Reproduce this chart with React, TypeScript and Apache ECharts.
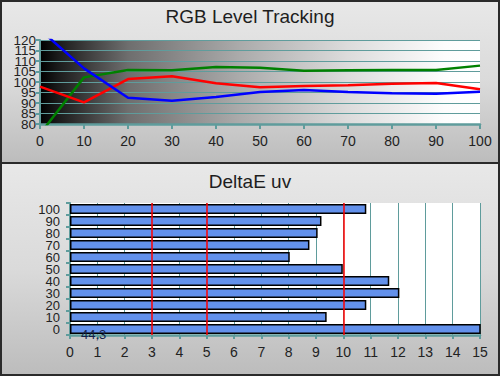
import React, { useEffect, useRef } from "react";
import * as echarts from "echarts";

const levels = [0, 10, 20, 30, 40, 50, 60, 70, 80, 90, 100];
const redLevels = [97.8, 90.3, 101.4, 102.7, 99.4, 97.5, 98.1, 98.4, 99.2, 99.5, 96.5];
const greenLevels = [75.3, 102.2, 105.7, 105.6, 107.1, 106.8, 105.4, 105.6, 105.7, 105.7, 107.8];
const blueLevels = [124.9, 106.5, 92.5, 91.1, 92.9, 95.2, 96.2, 95.2, 94.6, 94.4, 95.4];

const deltaCats = ["0", "10", "20", "30", "40", "50", "60", "70", "80", "90", "100"];
const deltaValues = [44.3, 9.39, 10.84, 12.05, 11.68, 9.98, 8.04, 8.76, 9.06, 9.2, 10.84];
const deltaThresholds = [3, 5, 10];

const TEAL = "#5f9c9c";
const FONT = "Liberation Sans";

export default function App() {
  const ref = useRef<HTMLDivElement>(null);
  useEffect(() => {
    document.body.style.margin = "0";
    const chart = echarts.init(ref.current!, null, { renderer: "svg" });
    const panelFill = () =>
      new echarts.graphic.LinearGradient(0, 0, 0, 1, [
        { offset: 0, color: "#e8e8e8" },
        { offset: 0.5, color: "#dadada" },
        { offset: 1, color: "#bcbcbc" },
      ]);
    const pts = (vals: number[]) => levels.map((l, i) => [l, vals[i]]);
    const yLabel = (keepRem: number) => ({
      fontFamily: FONT,
      fontSize: 13.5,
      color: "#222",
      margin: 4,
      showMinLabel: true,
      showMaxLabel: true,
      formatter: (v: number) => (v % 10 === keepRem ? String(v) : ""),
    });
    chart.setOption({
      animation: false,
      textStyle: { fontFamily: FONT },
      graphic: [
        {
          type: "rect",
          z: -10,
          silent: true,
          shape: { x: 1, y: 1, width: 498, height: 162 },
          style: { fill: panelFill(), stroke: "#2a2a2a", lineWidth: 2 },
        },
        {
          type: "rect",
          z: -10,
          silent: true,
          shape: { x: 1, y: 163, width: 498, height: 212 },
          style: { fill: panelFill(), stroke: "#2a2a2a", lineWidth: 2 },
        },
      ],
      title: [
        {
          text: "RGB Level Tracking",
          left: "center",
          top: 2,
          textStyle: { fontFamily: FONT, fontSize: 19, fontWeight: "normal", color: "#1e1e1e" },
        },
        {
          text: "DeltaE uv",
          left: "center",
          top: 167,
          textStyle: { fontFamily: FONT, fontSize: 19, fontWeight: "normal", color: "#1e1e1e" },
        },
      ],
      grid: [
        {
          left: 40,
          right: 20,
          top: 40,
          height: 84,
          show: true,
          borderWidth: 0,
          backgroundColor: new echarts.graphic.LinearGradient(0, 0, 1, 0, [
            { offset: 0, color: "#000000" },
            { offset: 0.04, color: "#1a1a1a" },
            { offset: 0.2, color: "#6e6e6e" },
            { offset: 0.45, color: "#aaaaaa" },
            { offset: 0.7, color: "#dcdcdc" },
            { offset: 0.92, color: "#fdfdfd" },
            { offset: 1, color: "#ffffff" },
          ]),
        },
        {
          left: 70,
          right: 20,
          top: 203,
          height: 132,
          show: true,
          borderWidth: 0,
          backgroundColor: "#ffffff",
        },
      ],
      xAxis: [
        {
          gridIndex: 0,
          type: "value",
          min: 0,
          max: 100,
          interval: 10,
          axisLine: { show: true, lineStyle: { color: TEAL, width: 2.5 } },
          axisTick: { show: true, length: 5, lineStyle: { color: TEAL, width: 2 } },
          splitLine: { show: false },
          axisLabel: { fontFamily: FONT, fontSize: 14, color: "#222", margin: 10 },
        },
        {
          gridIndex: 1,
          type: "value",
          min: 0,
          max: 15,
          interval: 1,
          axisLine: { show: true, lineStyle: { color: TEAL, width: 2.5 } },
          axisTick: { show: true, length: 4, lineStyle: { color: TEAL, width: 2 } },
          splitLine: { show: true, lineStyle: { color: TEAL, width: 1 } },
          axisLabel: { fontFamily: FONT, fontSize: 14, color: "#222", margin: 10 },
        },
      ],
      yAxis: [
        {
          gridIndex: 0,
          type: "value",
          min: 80,
          max: 120,
          interval: 5,
          axisLine: { show: true, lineStyle: { color: TEAL, width: 2 } },
          axisTick: { show: true, length: 4, lineStyle: { color: TEAL, width: 2 } },
          splitLine: { show: true, lineStyle: { color: TEAL, width: 1 } },
          axisLabel: yLabel(0),
        },
        {
          gridIndex: 1,
          type: "category",
          data: deltaCats,
          axisLine: { show: true, lineStyle: { color: TEAL, width: 2 } },
          axisTick: { show: true, length: 4, lineStyle: { color: TEAL, width: 2 } },
          splitLine: { show: false },
          axisLabel: {
            fontFamily: FONT,
            fontSize: 13,
            color: "#222",
            margin: 10,
            interval: 0,
          },
        },
        {
          gridIndex: 0,
          type: "value",
          position: "left",
          min: 80,
          max: 120,
          interval: 5,
          axisLine: { show: false },
          axisTick: { show: false },
          splitLine: { show: false },
          axisLabel: yLabel(5),
        },
      ],
      series: [
        {
          type: "line",
          xAxisIndex: 0,
          yAxisIndex: 0,
          data: pts(greenLevels),
          symbol: "none",
          clip: true,
          lineStyle: { color: "#008000", width: 2.5 },
        },
        {
          type: "line",
          xAxisIndex: 0,
          yAxisIndex: 0,
          data: pts(redLevels),
          symbol: "none",
          clip: true,
          lineStyle: { color: "#ff0000", width: 2.5 },
        },
        {
          type: "line",
          xAxisIndex: 0,
          yAxisIndex: 0,
          data: pts(blueLevels),
          symbol: "none",
          clip: true,
          lineStyle: { color: "#0000ff", width: 2.5 },
        },
        {
          type: "bar",
          xAxisIndex: 1,
          yAxisIndex: 1,
          barWidth: 10,
          clip: true,
          itemStyle: { color: "#6391eb", borderColor: "#000", borderWidth: 1.5 },
          data: deltaValues.map((v, i) =>
            i === 0
              ? {
                  value: v,
                  label: {
                    show: true,
                    position: "insideLeft",
                    offset: [6, 5],
                    fontFamily: FONT,
                    fontSize: 13,
                    color: "#14224a",
                    formatter: (p: any) => String(p.value).replace(".", ","),
                  },
                }
              : v
          ),
          markLine: {
            silent: true,
            symbol: "none",
            label: { show: false },
            lineStyle: { color: "#ff0000", width: 1.5, type: "solid" },
            data: deltaThresholds.map((t) => ({ xAxis: t })),
          },
        },
      ],
    });
    return () => chart.dispose();
  }, []);
  return <div ref={ref} style={{ width: 500, height: 376 }} />;
}
